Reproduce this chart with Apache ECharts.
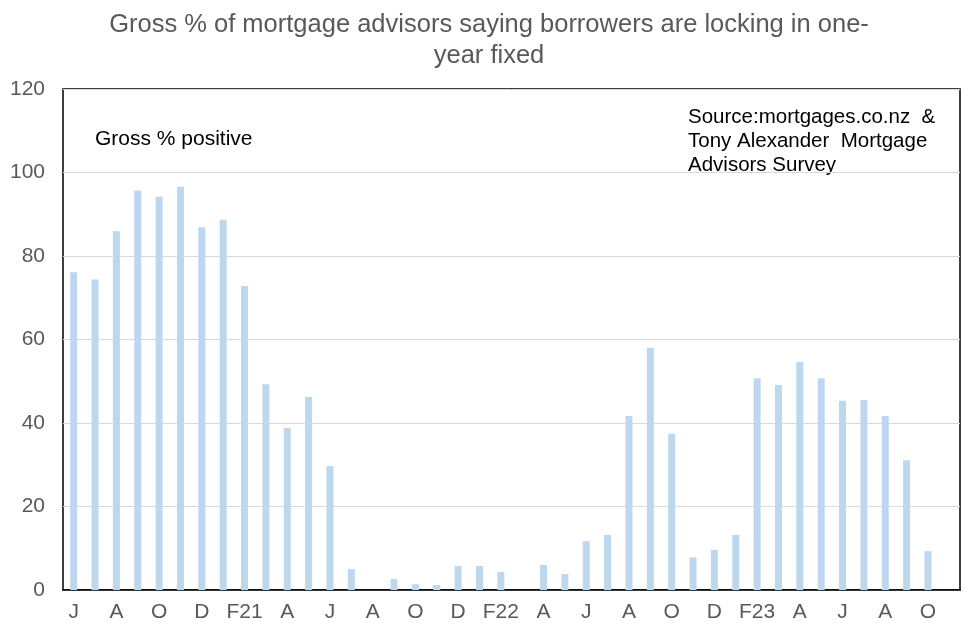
<!DOCTYPE html>
<html>
<head>
<meta charset="utf-8">
<script src="https://cdn.jsdelivr.net/npm/echarts@6/dist/echarts.min.js"></script>
<style>
  html, body { margin: 0; padding: 0; background: #fff; }
  #chart { width: 976px; height: 636px; }
</style>
</head>
<body>
<div id="chart"></div>
<script>
// monthly survey, Jun 2020 .. Nov 2023, labels every second month
var months = ['J','J','A','S','O','N','D','J','F21','M','A','M','J','J','A','S','O','N','D','J',
              'F22','M','A','M','J','J','A','S','O','N','D','J','F23','M','A','M','J','J','A','S','O','N'];
var grossPositive = [76.1, 74.4, 85.9, 95.7, 94.2, 96.6, 86.9, 88.7, 72.8, 49.3,
                     38.8, 46.2, 29.7, 5.0, 0, 2.6, 1.4, 1.2, 5.75, 5.75,
                     4.3, 0, 6.0, 3.8, 11.7, 13.2, 41.7, 58.0, 37.4, 7.8,
                     9.6, 13.2, 50.7, 49.1, 54.6, 50.7, 45.3, 45.5, 41.7, 31.1,
                     9.3, null];
var yTicks = { min: 0, max: 120, interval: 20 };

var myChart = echarts.init(document.getElementById('chart'));
var option = {
    animation: false,
    title: {
        text: 'Gross % of mortgage advisors saying borrowers are locking in one-\nyear fixed',
        left: 484,
        top: 4,
        textAlign: 'center',
        textStyle: {
            fontFamily: '"Liberation Sans", Arial, sans-serif',
            fontSize: 25.5,
            fontWeight: 'normal',
            color: '#595959',
            lineHeight: 31
        }
    },
    grid: {
        left: 63, right: 16, top: 89, bottom: 46,
        show: true,
        borderColor: '#000',
        borderWidth: 1.5,
        containLabel: false
    },
    xAxis: {
        type: 'category',
        data: months,
        axisLine: { lineStyle: { color: '#000', width: 1.5 } },
        axisTick: { show: false },
        axisLabel: {
            interval: 1,
            color: '#595959',
            fontSize: 21,
            fontFamily: '"Liberation Sans", Arial, sans-serif',
            margin: 12
        }
    },
    yAxis: {
        type: 'value',
        min: yTicks.min, max: yTicks.max, interval: yTicks.interval,
        axisLine: { show: false },
        axisTick: { show: false },
        splitLine: { lineStyle: { color: '#d9d9d9', width: 1 } },
        axisLabel: {
            color: '#595959',
            fontSize: 21,
            fontFamily: '"Liberation Sans", Arial, sans-serif',
            margin: 18
        }
    },
    graphic: [
        {
            type: 'text', left: 95, top: 129,
            style: {
                text: 'Gross % positive',
                fill: '#000',
                font: '21px "Liberation Sans", Arial, sans-serif'
            }
        },
        {
            type: 'text', left: 688, top: 105,
            style: {
                text: 'Source:mortgages.co.nz  &\nTony Alexander  Mortgage\nAdvisors Survey',
                fill: '#000',
                font: '20.5px "Liberation Sans", Arial, sans-serif',
                lineHeight: 24
            }
        }
    ],
    series: [
        {
            name: 'Gross % positive',
            type: 'bar',
            data: grossPositive,
            barWidth: 7,
            itemStyle: { color: '#bdd7ee' }
        }
    ]
};
myChart.setOption(option, true);
</script>
</body>
</html>
